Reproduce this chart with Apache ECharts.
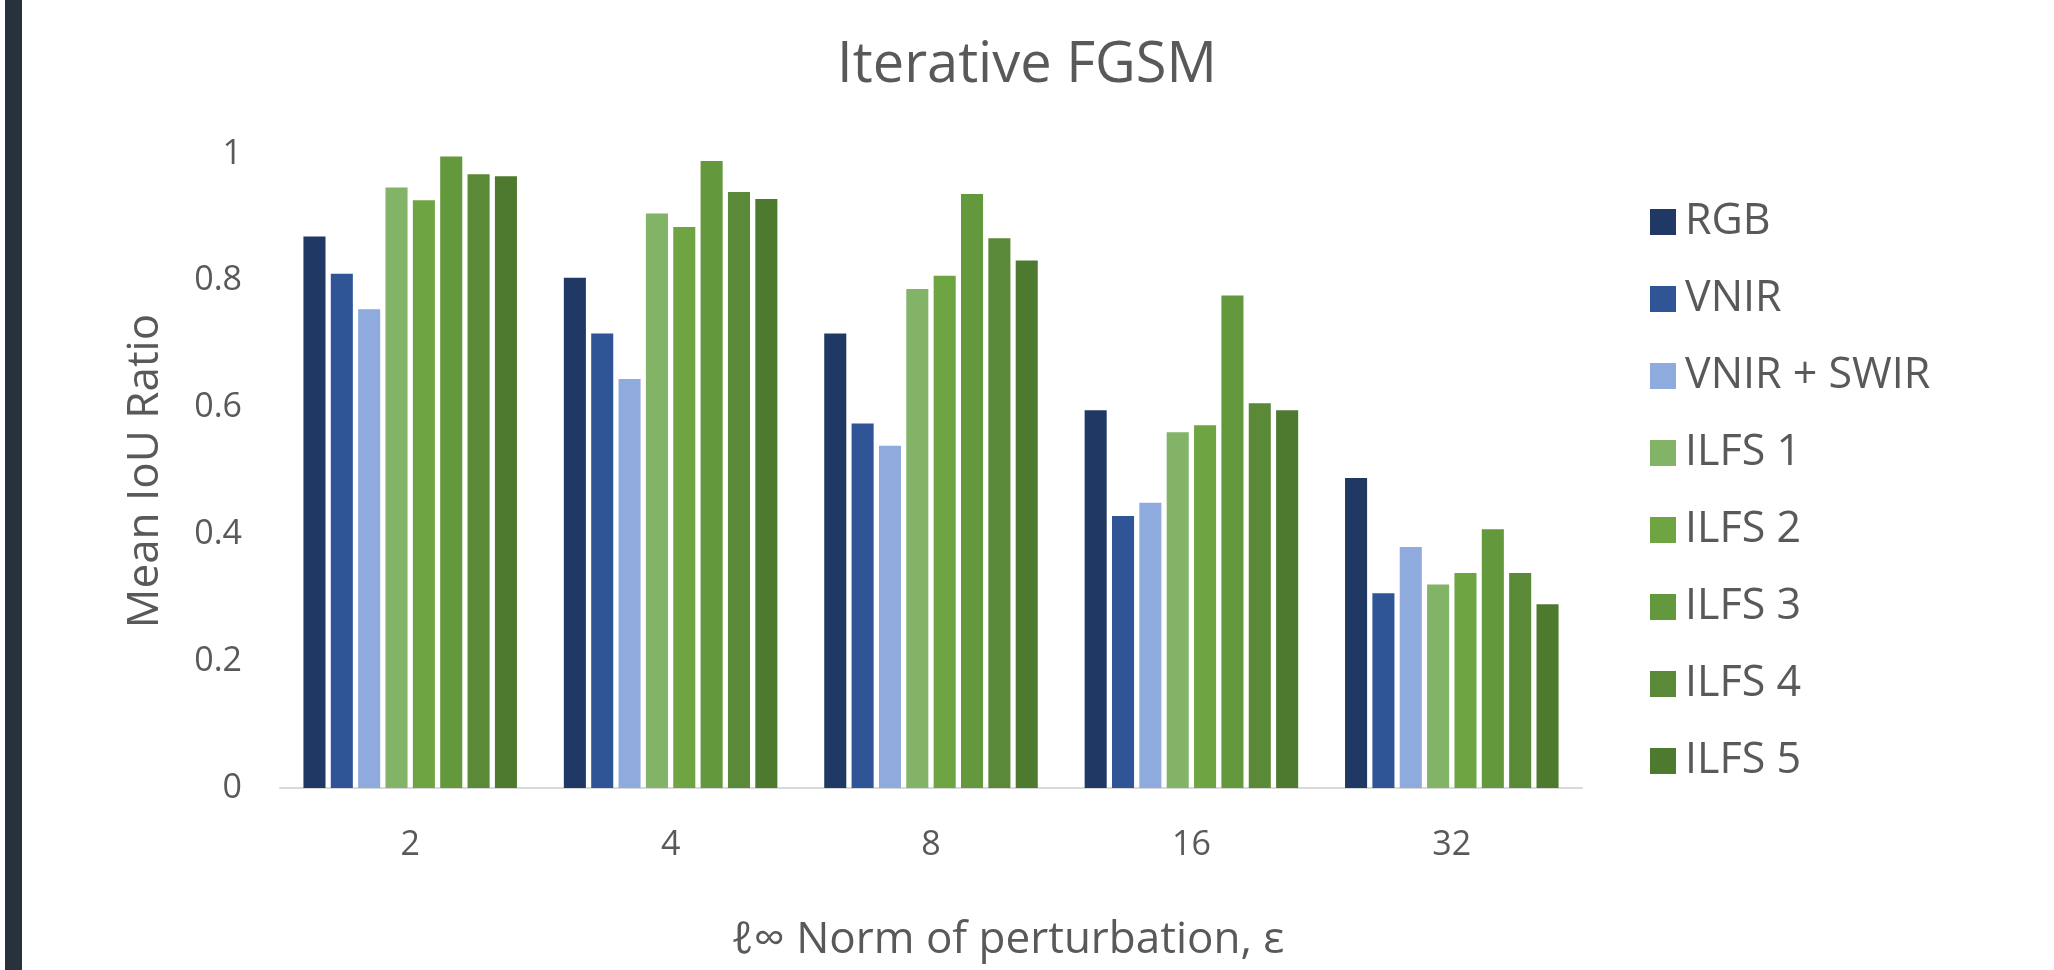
<!DOCTYPE html>
<html>
<head>
<meta charset="utf-8">
<style>
  html, body { margin: 0; padding: 0; background: #ffffff; }
  #strip { position: absolute; left: 5px; top: 0; width: 17px; height: 970px; background: #29323c; z-index: 2; }
  #chart { position: absolute; left: 0; top: 0; width: 2054px; height: 970px; }
</style>
<script src="https://cdn.jsdelivr.net/npm/echarts@6/dist/echarts.min.js"></script>
</head>
<body>
<div id="strip"></div>
<div id="chart"></div>
<script>
const categories = ['2', '4', '8', '16', '32'];
const seriesNames = ['RGB', 'VNIR', 'VNIR + SWIR', 'ILFS 1', 'ILFS 2', 'ILFS 3', 'ILFS 4', 'ILFS 5'];
const rgb      = [0.870, 0.805, 0.717, 0.596, 0.489];
const vnir     = [0.811, 0.717, 0.575, 0.429, 0.307];
const vnirSwir = [0.755, 0.645, 0.540, 0.450, 0.380];
const ilfs1    = [0.947, 0.906, 0.787, 0.561, 0.321];
const ilfs2    = [0.927, 0.885, 0.808, 0.572, 0.339];
const ilfs3    = [0.996, 0.989, 0.937, 0.777, 0.408];
const ilfs4    = [0.968, 0.940, 0.867, 0.607, 0.339];
const ilfs5    = [0.965, 0.929, 0.832, 0.596, 0.290];
const yTicks   = [0, 0.2, 0.4, 0.6, 0.8, 1];
const colors = ['#203864', '#2f5597', '#8faadc', '#82b366', '#6ea542', '#63983d', '#5a8a37', '#4e7a30'];

const values = [rgb, vnir, vnirSwir, ilfs1, ilfs2, ilfs3, ilfs4, ilfs5];
const font = '"Open Sans", "DejaVu Sans", sans-serif';
const textColor = '#595959';

const chart = echarts.init(document.getElementById('chart'), null, { renderer: 'canvas' });
chart.setOption({
  animation: false,
  backgroundColor: '#ffffff',
  color: colors,
  title: [
    {
      text: 'Iterative FGSM',
      left: 'center',
      top: 33,
      textStyle: { fontFamily: font, fontSize: 56, fontWeight: 'normal', color: textColor }
    },
    {
      text: 'ℓ∞ Norm of perturbation, ε',
      left: 726,
      top: 913,
      textStyle: { fontFamily: font, fontSize: 44, fontWeight: 'normal', color: textColor }
    }
  ],
  legend: {
    orient: 'vertical',
    left: 1645,
    top: 192,
    itemWidth: 26,
    itemHeight: 26,
    itemGap: 27,
    icon: 'rect',
    data: seriesNames,
    textStyle: { fontFamily: font, fontSize: 43, color: textColor, lineHeight: 50, padding: [0, 0, 0, 4] }
  },
  grid: { left: 280, right: 472, top: 154, bottom: 182, containLabel: false },
  xAxis: {
    type: 'category',
    data: categories,
    axisLine: { show: true, lineStyle: { color: '#d9d9d9', width: 2 } },
    axisTick: { show: false },
    axisLabel: { fontFamily: font, fontSize: 34, color: textColor, margin: 40 },
    splitLine: { show: false }
  },
  yAxis: {
    type: 'value',
    min: yTicks[0],
    max: yTicks[yTicks.length - 1],
    interval: 0.2,
    name: 'Mean IoU Ratio',
    nameLocation: 'middle',
    nameGap: 113,
    nameTextStyle: { fontFamily: font, fontSize: 44, color: textColor },
    axisLine: { show: false },
    axisTick: { show: false },
    splitLine: { show: false },
    axisLabel: {
      fontFamily: font, fontSize: 34, color: textColor, margin: 38,
      formatter: function (v) { return String(Math.round(v * 10) / 10); }
    }
  },
  series: seriesNames.map(function (name, i) {
    return {
      name: name,
      type: 'bar',
      data: values[i],
      barGap: '24%',
      barCategoryGap: '18%',
      itemStyle: { color: colors[i] }
    };
  })
});
</script>
</body>
</html>
